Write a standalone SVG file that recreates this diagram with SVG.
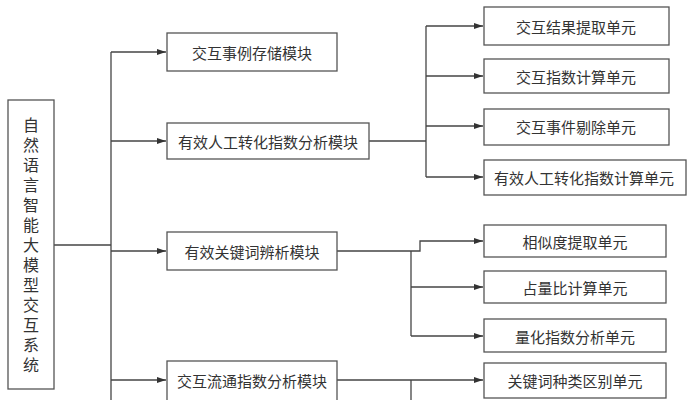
<svg xmlns="http://www.w3.org/2000/svg" width="694" height="400" viewBox="0 0 694 400">
<style>
.b{fill:#fff;stroke:#555;stroke-width:1.3}
.t{font-family:"Noto Sans CJK SC","Noto Sans",sans-serif;font-size:15px;fill:#333;text-anchor:middle;dominant-baseline:central}
.c{fill:none;stroke:#444;stroke-width:1.3}
</style>
<defs><marker id="a" markerWidth="10" markerHeight="8" refX="9" refY="4" orient="auto" markerUnits="userSpaceOnUse"><path d="M0,1 L9,4 L0,7 Z" fill="#333"/></marker></defs>
<rect width="694" height="400" fill="#fff"/>
<g id="connectors">
<path class="c" d="M54,245 H111"/>
<path class="c" d="M111,52 V400"/>
<path class="c" d="M111,52 H166" marker-end="url(#a)"/>
<path class="c" d="M111,141 H166" marker-end="url(#a)"/>
<path class="c" d="M111,251 H166" marker-end="url(#a)"/>
<path class="c" d="M111,380 H166" marker-end="url(#a)"/>
<path class="c" d="M369,141 H426"/>
<path class="c" d="M426,26 V177"/>
<path class="c" d="M426,26 H483" marker-end="url(#a)"/>
<path class="c" d="M426,76 H483" marker-end="url(#a)"/>
<path class="c" d="M426,126 H483" marker-end="url(#a)"/>
<path class="c" d="M426,177 H483" marker-end="url(#a)"/>
<path class="c" d="M337,251 H420 V241 H483" marker-end="url(#a)"/>
<path class="c" d="M411,251 V336"/>
<path class="c" d="M411,287 H483" marker-end="url(#a)"/>
<path class="c" d="M411,336 H483" marker-end="url(#a)"/>
<path class="c" d="M337,380 H483" marker-end="url(#a)"/>
<path class="c" d="M411,380 V400"/>
</g>
<g id="root"><rect class="b" x="8" y="100" width="46" height="289"/>
<text class="t" x="31" y="247" writing-mode="tb" style="font-size:16px;letter-spacing:4px;dominant-baseline:auto">自然语言智能大模型交互系统</text></g>
<g id="m1"><rect class="b" x="167" y="33" width="170" height="38"/><text class="t" x="252" y="52">交互事例存储模块</text></g>
<g id="m2"><rect class="b" x="167" y="123" width="202" height="36"/><text class="t" x="268" y="141">有效人工转化指数分析模块</text></g>
<g id="m3"><rect class="b" x="167" y="232" width="170" height="38"/><text class="t" x="252" y="251">有效关键词辨析模块</text></g>
<g id="m4"><rect class="b" x="167" y="361" width="170" height="40"/><text class="t" x="252" y="380">交互流通指数分析模块</text></g>
<g id="u1"><rect class="b" x="484" y="7" width="185" height="38"/><text class="t" x="576" y="26">交互结果提取单元</text></g>
<g id="u2"><rect class="b" x="484" y="59" width="185" height="34"/><text class="t" x="576" y="76">交互指数计算单元</text></g>
<g id="u3"><rect class="b" x="484" y="109" width="185" height="36"/><text class="t" x="576" y="126">交互事件剔除单元</text></g>
<g id="u4"><rect class="b" x="484" y="160" width="202" height="35"/><text class="t" x="584" y="177">有效人工转化指数计算单元</text></g>
<g id="u5"><rect class="b" x="484" y="225" width="182" height="32"/><text class="t" x="575" y="241">相似度提取单元</text></g>
<g id="u6"><rect class="b" x="484" y="271" width="182" height="32"/><text class="t" x="575" y="287">占量比计算单元</text></g>
<g id="u7"><rect class="b" x="484" y="319" width="182" height="33"/><text class="t" x="575" y="336">量化指数分析单元</text></g>
<g id="u8"><rect class="b" x="484" y="363" width="182" height="35"/><text class="t" x="575" y="380">关键词种类区别单元</text></g>
</svg>
